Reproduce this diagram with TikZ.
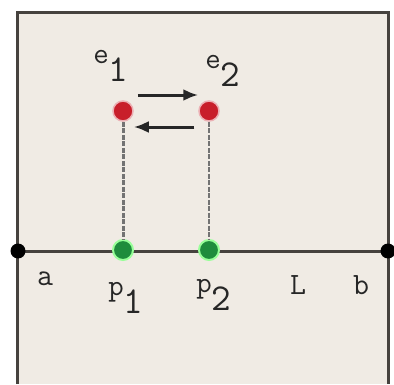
\documentclass[tikz,border=0pt]{standalone}
\usepackage{fontspec}
\usetikzlibrary{arrows.meta,positioning,calc}

\definecolor{panel}{RGB}{240,235,228}
\definecolor{edge}{RGB}{70,66,62}
\definecolor{reddot}{RGB}{200,30,42}
\definecolor{greendot}{RGB}{30,140,60}

% label: letter with a large lowered digit
\newcommand{\lblsub}[2]{{\fontsize{30}{30}\selectfont #1}\raisebox{-18pt}{\fontsize{38}{38}\selectfont #2}}

\begin{document}
\begin{tikzpicture}[
    x=1pt, y=1pt,
    enddot/.style={circle, fill=black, minimum size=15pt, inner sep=0pt},
    evdot/.style={circle, fill=reddot, draw=reddot!35, line width=1.5pt, minimum size=20pt, inner sep=0pt},
    ptdot/.style={circle, fill=greendot, draw=green!40, line width=2pt, minimum size=20pt, inner sep=0pt},
    lbl/.style={font=\ttfamily, inner sep=0pt, text=black!85},
    drop/.style={black!55, line width=3pt, dash pattern=on 5pt off 1.5pt},
    flow/.style={-{Latex[length=15pt,width=12pt]}, line width=3pt, black!85},
]
\useasboundingbox (0,0) rectangle (394,384);
\fill[white] (0,0) rectangle (394,384);

% Domain box (open at the bottom)
\fill[panel] (17,0) rectangle (388,371);
\draw[edge, line width=3pt] (17,0) -- (17,371) -- (388,371) -- (388,0);

% Line from a to b
\coordinate (la) at (18,133);
\coordinate (lb) at (388,133);
\draw[edge, line width=3pt] (la) -- (lb);
\node[enddot] (a) at (la) {};
\node[enddot] (b) at (lb) {};

% Points on the line and their events
\node[ptdot] (p1) at (123,134) {};
\node[ptdot] (p2) at (209,134) {};
\node[evdot] (e1) at (123,273) {};
\node[evdot] (e2) at (209,273) {};

\draw[drop] (e1) -- (p1);
\draw[drop, line width=2pt] (e2) -- (p2);

% Exchange between events
\draw[flow, shorten <=4pt] ([yshift=16pt]e1.east) -- ([yshift=16pt]e2.west);
\draw[flow, shorten <=4pt] ([yshift=-16pt]e2.west) -- ([yshift=-16pt]e1.east);

% Labels
\node[lbl] (te1) at (111,318) {\lblsub{e}{1}};
\node[lbl] (te2) at (223,313) {\lblsub{e}{2}};
\node[lbl] (tp1) at (126,86) {\lblsub{p}{1}};
\node[lbl] (tp2) at (214,89) {\lblsub{p}{2}};
\node[lbl, font=\ttfamily\fontsize{31}{31}\selectfont] (ta) at (45,105) {a};
\node[lbl, font=\ttfamily\fontsize{31}{31}\selectfont] (tL) at (298,99) {L};
\node[lbl, font=\ttfamily\fontsize{31}{31}\selectfont] (tb) at (361,99) {b};
\end{tikzpicture}
\end{document}
